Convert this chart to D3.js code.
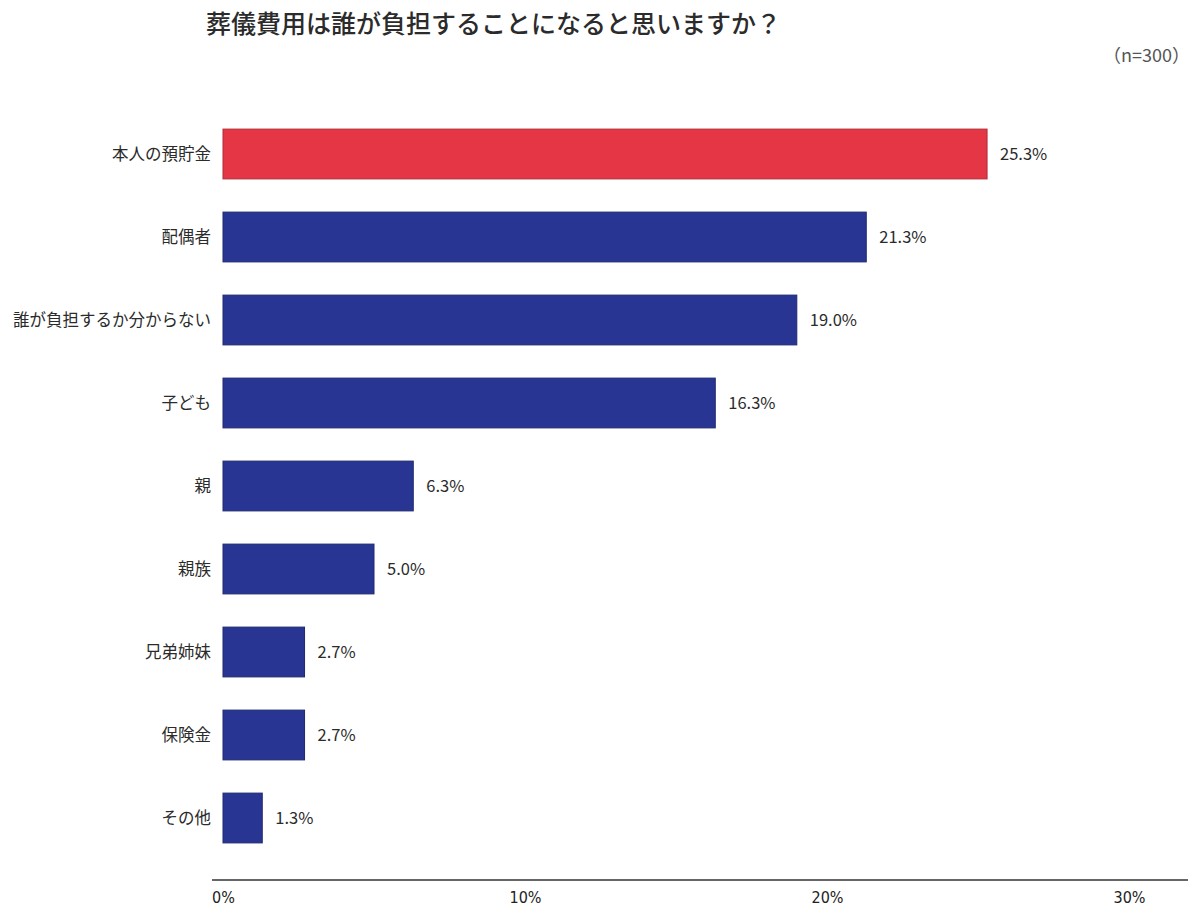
<!DOCTYPE html>
<html>
<head>
<meta charset="utf-8">
<script src="https://cdn.jsdelivr.net/npm/d3@7"></script>
<style>
  body { margin: 0; background: #fff; }
  svg { font-family: "Noto Sans CJK JP", "Noto Sans", sans-serif; }
</style>
</head>
<body>
<svg id="chart"></svg>
<script>
const categories = ["本人の預貯金", "配偶者", "誰が負担するか分からない", "子ども", "親", "親族", "兄弟姉妹", "保険金", "その他"];
const values = [25.3, 21.3, 19.0, 16.3, 6.3, 5.0, 2.7, 2.7, 1.3];
const highlight = [true, false, false, false, false, false, false, false, false];
const xTicks = [0, 10, 20, 30];

const width = 1200, height = 914;
const margin = { top: 112.5, right: 12, bottom: 54.5, left: 223 };

const svg = d3.select("#chart")
    .attr("width", width)
    .attr("height", height);

const x = d3.scaleLinear()
    .domain([0, 30])
    .range([margin.left, margin.left + 906]);

const y = d3.scaleBand()
    .domain(categories)
    .range([margin.top, height - margin.bottom])
    .paddingInner(0.4)
    .paddingOuter(0.2);

// title
svg.append("text")
    .attr("x", 206)
    .attr("y", 33)
    .attr("font-size", 25)
    .attr("font-weight", 500)
    .attr("fill", "#2b2b2b")
    .text("葬儀費用は誰が負担することになると思いますか？");

svg.append("text")
    .attr("x", 1190)
    .attr("y", 62)
    .attr("text-anchor", "end")
    .attr("font-size", 18)
    .attr("fill", "#555")
    .text("（n=300）");

// bars
svg.append("g")
    .selectAll("rect")
    .data(categories)
    .join("rect")
    .attr("x", x(0))
    .attr("y", d => y(d))
    .attr("width", (d, i) => x(values[i]) - x(0))
    .attr("height", y.bandwidth())
    .attr("fill", (d, i) => highlight[i] ? "#e53646" : "#283593")
    .attr("stroke", (d, i) => highlight[i] ? "#b22a36" : "#1f2a70")
    .attr("stroke-width", 1);

// value labels
svg.append("g")
    .selectAll("text")
    .data(categories)
    .join("text")
    .attr("x", (d, i) => x(values[i]) + 13)
    .attr("y", d => y(d) + y.bandwidth() / 2)
    .attr("dy", "0.35em")
    .attr("font-size", 16.5)
    .attr("fill", "#2b2b2b")
    .text((d, i) => values[i].toFixed(1) + "%");

// category labels
svg.append("g")
    .selectAll("text")
    .data(categories)
    .join("text")
    .attr("x", 211)
    .attr("y", d => y(d) + y.bandwidth() / 2)
    .attr("dy", "0.35em")
    .attr("text-anchor", "end")
    .attr("font-size", 16.5)
    .attr("fill", "#2b2b2b")
    .text(d => d);

// x axis
const xAxis = svg.append("g")
    .attr("transform", `translate(0, 880)`)
    .call(d3.axisBottom(x).tickValues(xTicks).tickFormat(d => d + "%").tickSize(0).tickPadding(12));

xAxis.select(".domain").remove();
xAxis.append("line")
    .attr("x1", 212)
    .attr("x2", 1188)
    .attr("stroke", "#333")
    .attr("stroke-width", 1.5);

xAxis.selectAll(".tick text")
    .attr("font-family", "'Liberation Sans Narrow', 'DejaVu Sans Condensed', sans-serif")
    .attr("font-size", 16)
    .attr("fill", "#222");
</script>
</body>
</html>
